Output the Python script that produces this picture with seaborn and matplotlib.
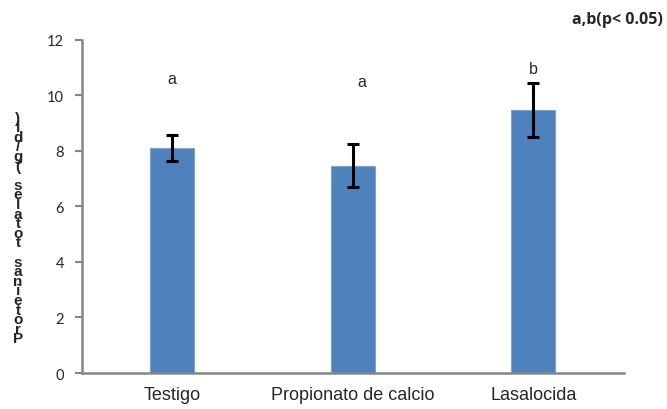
import matplotlib
matplotlib.use("Agg")
import matplotlib.pyplot as plt
import seaborn as sns
import pandas as pd

# Data
categories = ["Testigo", "Propionato de calcio", "Lasalocida"]
means = [8.1, 7.46, 9.48]
errors = [0.47, 0.77, 0.97]
letters = ["a", "a", "b"]
letter_y = [10.6, 10.5, 10.95]
y_ticks = [0, 2, 4, 6, 8, 10, 12]
ylabel = "Proteinas totales (g/dl)"

sns.set_theme(style="white")
plt.rcParams["font.family"] = ["Liberation Sans", "DejaVu Sans"]

df = pd.DataFrame({"trat": categories, "valor": means})

fig = plt.figure(figsize=(6.67, 4.10), dpi=100)
ax = fig.add_axes([0.1229, 0.0878, 0.8119, 0.8129])

sns.barplot(data=df, x="trat", y="valor", color="#4F81BD", width=0.245,
            saturation=1, ax=ax, errorbar=None)
for p in ax.patches:
    p.set_edgecolor("#7FA3D3")
    p.set_linewidth(0.8)

ax.errorbar(range(len(categories)), means, yerr=errors, fmt="none",
            ecolor="black", elinewidth=2.2, capsize=4, capthick=2.2)

for i, (lt, ly) in enumerate(zip(letters, letter_y)):
    dx = 0.05 if i == 1 else 0.0
    ax.text(i + dx, ly, lt, ha="center", va="center", fontsize=11.5,
            family=["Liberation Sans"])

ax.set_xlim(-0.5, 2.5)
ax.set_ylim(0, 12)
ax.set_yticks(y_ticks)
ax.set_yticklabels([str(t) for t in y_ticks], family=["Lato", "DejaVu Sans"],
                   fontsize=10.5)
ax.set_xlabel("")
ax.set_ylabel("")
ax.tick_params(axis="x", length=0, labelsize=13, pad=9)
ax.tick_params(axis="y", left=True, length=5, width=1.5, color="#868686",
               direction="out", pad=8)

for s in ["top", "right"]:
    ax.spines[s].set_visible(False)
for s in ["left", "bottom"]:
    ax.spines[s].set_color("#868686")
    ax.spines[s].set_linewidth(1.8)

# Vertical axis title: upright glyphs stacked bottom-to-top in one text
stacked = "\n".join(reversed(ylabel))
fig.text(18 / 667, 1 - 229 / 410, stacked, ha="center", va="center",
         fontsize=11, fontweight="bold", linespacing=0.6,
         family=["Liberation Sans"])

fig.text(663 / 667, 1 - 20 / 410, "a,b(p< 0.05)", ha="right", va="center",
         fontsize=11.5, fontweight="bold", family=["Open Sans", "DejaVu Sans"])

fig.savefig("out.png", dpi=100)
